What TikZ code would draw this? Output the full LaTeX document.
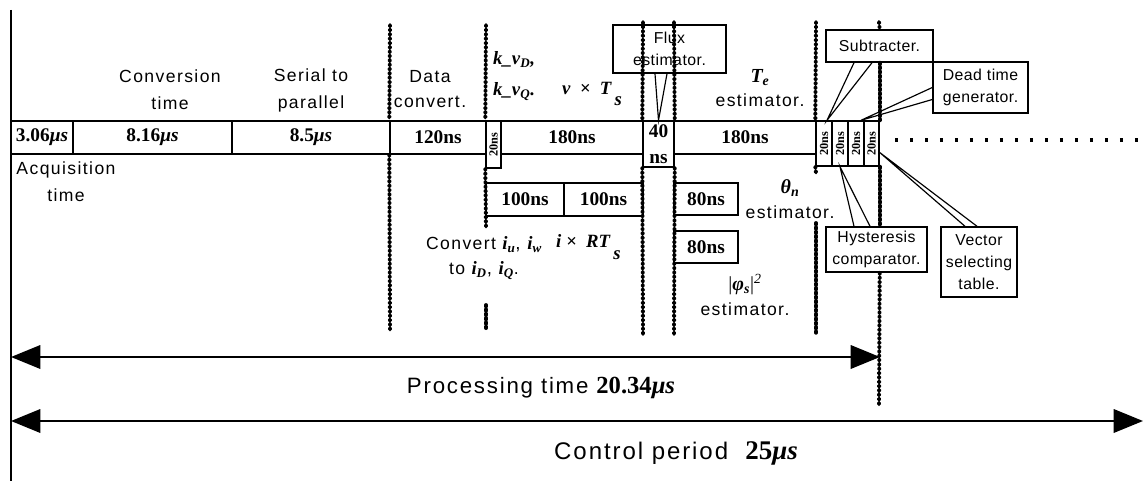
\documentclass[tikz,border=0pt]{standalone}
\usepackage{graphicx}
\usepackage{fontspec}
\setmainfont{Liberation Serif}
\newfontfamily\lblfont{Liberation Sans}[LetterSpace=8]
\newfontfamily\tagfont{Liberation Sans}[LetterSpace=3]
\usetikzlibrary{arrows.meta,calc}

\newcommand{\bi}[1]{{\rmfamily\bfseries\itshape #1}}
\newcommand{\us}{\bi{μs}}

\begin{document}
\begin{tikzpicture}[x=0.03cm, y=-0.03cm,
  sz/.style 2 args={minimum width=#1*0.03cm, minimum height=#2*0.03cm},
  lbl/.style={font=\lblfont\fontsize{15}{21}\selectfont, align=center, inner sep=0pt},
  tag/.style={draw, line width=1.2pt, inner sep=0pt, align=center,
              font=\tagfont\fontsize{13.5}{19}\selectfont},
  cell/.style={draw, line width=1.2pt, inner sep=0pt, align=center,
               font=\bfseries\fontsize{16.5}{18}\selectfont},
  tiny/.style={cell, font=\bfseries\fontsize{10.5}{12}\selectfont},
  var/.style={font=\bfseries\itshape\fontsize{16}{26}\selectfont, inner sep=0pt, align=left},
  dotline/.style={line width=3.3pt, line cap=round, dash pattern=on 1.2pt off 2.5pt},
  lead/.style={line width=1pt},
  period/.style={line width=1.8pt,
                 {Triangle[length=25pt,width=20pt]}-{Triangle[length=25pt,width=20pt]}}
]
\useasboundingbox (0,0) rectangle (1143,481);

% Time band
\node[cell, sz={62}{33}]  at (42,137.5)    (acq)  {3.06\us};
\node[cell, sz={159}{33}] at (152.5,137.5) (conv) {8.16\us};
\node[cell, sz={158}{33}] at (311,137.5)   (ser)  {8.5\us};
\node[cell, sz={96}{33}]  at (438,137.5)   (dat)  {120ns};
\node[tiny, sz={15}{47}]  at (493.5,144.5) (kv)   {\rotatebox{90}{20ns}};
\node[cell, sz={142}{33}] at (572,137.5)   (mul)  {180ns};
\node[cell, sz={31}{46}]  at (658.5,144)   (flx)  {40\\[4pt]ns};
\node[cell, sz={142}{33}] at (745,137.5)   (te)   {180ns};
\node[tiny, sz={16}{45}]  at (824,143.5)   (c1)   {\rotatebox{90}{20ns}};
\node[tiny, sz={16}{45}]  at (840,143.5)   (c2)   {\rotatebox{90}{20ns}};
\node[tiny, sz={16}{45}]  at (856,143.5)   (c3)   {\rotatebox{90}{20ns}};
\node[tiny, sz={15}{45}]  at (871.5,143.5) (c4)   {\rotatebox{90}{20ns}};

% Parallel steps
\node[cell, sz={78}{33}] at (525,199.5)   (m1) {100ns};
\node[cell, sz={79}{33}] at (603.5,199.5) (m2) {100ns};
\node[cell, sz={64}{32}] at (706,199)     (th) {80ns};
\node[cell, sz={64}{32}] at (706,247)     (ph) {80ns};

% Named blocks
\node[tag, sz={113}{48}] at (669.5,49)  (flux) {Flux\\estimator.};
\node[tag, sz={107}{32}] at (879.5,46)  (sub)  {Subtracter.};
\node[tag, sz={95}{51}]  at (980.5,87.5) (dead) {Dead time\\generator.};
\node[tag, sz={101}{45}] at (876.5,249.5) (hyst) {Hysteresis\\comparator.};
\node[tag, sz={76}{70}]  at (979,262)   (vect) {Vector\\selecting\\table.};

% Separators
\draw[dotline] (390,25) -- (dat.north west);
\draw[dotline] (dat.south west) -- (390,330);
\draw[dotline] (486,25) -- (kv.north west);
\draw[dotline] (kv.south west) -- (486,228);
\draw[dotline] (486,305) -- (486,330);
\draw[dotline] (643,22) -- (flx.north west);
\draw[dotline] (flx.south west) -- (643,335);
\draw[dotline] (674,22) -- (flx.north east);
\draw[dotline] (flx.south east) -- (674,335);
\draw[dotline] (816,22) -- (c1.north west);
\draw[dotline] (c1.south west) -- (816,173);
\draw[dotline] (816,223) -- (816,335);
\draw[dotline] (879,22) -- (sub.north -| c4.east);
\draw[dotline] (sub.south -| c4.east) -- (c4.north east);
\draw[dotline] (c4.south east) -- (hyst.north -| c4.east);
\draw[dotline] (hyst.south -| c4.east) -- (879,405);
\draw[line width=2.6pt, dash pattern=on 2.6pt off 10.2pt] (895,140) -- (1143,140);

% Leaders
\draw[lead] ($(flux.south)+(-14.5,0)$) -- (flx.north) -- ($(flux.south)+(-2.5,0)$);
\draw[lead] ($(sub.south)+(-25.5,0)$) -- ($(c1.north)+(3,0)$) -- ($(sub.south)+(-7.5,0)$);
\draw[lead] (dead.west) -- ($(c3.north)+(5,0)$) -- ($(dead.west)+(0,12)$);
\draw[lead] ($(hyst.north)+(-22.5,0)$) -- (c2.south) -- ($(hyst.north)+(-6.5,0)$);
\draw[lead] ($(vect.north)+(-14,0)$) -- ($(c4.east)+(0,9)$) -- ($(vect.north)+(-2,0)$);

% Labels
\node[lbl, font=\lblfont\fontsize{15}{23}\selectfont] (convlbl) at (170,90) {Conversion\\time};
\node[lbl, font=\lblfont\fontsize{15}{23}\selectfont] (serlbl) at (311,90) {Serial to\\parallel};
\node[lbl, font=\lblfont\fontsize{15}{23}\selectfont] (acqlbl) at (66,182) {Acquisition\\time};
\node[lbl] (datlbl) at (430,89) {Data\\convert.};
\node[var, anchor=west] (kvlbl) at (493,76) {k\_v\textsubscript{D},\\k\_v\textsubscript{Q}.};
\node[var, anchor=west] (vts) at (562,94) {v\ \ ×\ \ T\,\raisebox{-1.3ex}{s}};
\node[lbl] (telbl) at (760,88) {{\bfseries\itshape\rmfamily\fontsize{17}{20}\selectfont T\textsubscript{e}}\\estimator.};
\node[lbl] (thlbl) at (790,199) {{\bfseries\itshape\rmfamily\fontsize{17}{20}\selectfont θ\textsubscript{n}}\\estimator.};
\node[lbl] (phlbl) at (745,295) {{\rmfamily\fontsize{17}{20}\selectfont |\bi{φ}\textsubscript{\bi{s}}|\textsuperscript{\itshape 2}}\\estimator.};
\node[lbl] (cvlbl) at (484,258) {Convert {\fontsize{16}{20}\selectfont\bi{i}\textsubscript{\bi{u}}, \bi{i}\textsubscript{\bi{w}}}\\to {\fontsize{16}{20}\selectfont\bi{i}\textsubscript{\bi{D}}, \bi{i}\textsubscript{\bi{Q}}}.};
\node[var, anchor=west] (irt) at (556,247) {i\ ×\ \ RT\,\raisebox{-1.3ex}{s}};

% Time spans
\coordinate (ptop) at (11,10);
\coordinate (pbot) at (11,481);
\draw[line width=1.8pt] (ptop) -- (pbot);
\coordinate (procL) at (11,357);
\coordinate (procR) at (880,357);
\draw[period] (procL) -- (procR);
\coordinate (ctrlL) at (11,421);
\coordinate (ctrlR) at (1143,421);
\draw[period] (ctrlL) -- (ctrlR);
\node[lbl, font=\lblfont\fontsize{19}{22}\selectfont] (proclbl) at (541,388)
  {Processing time {\rmfamily\bfseries\fontsize{21}{22}\selectfont 20.34\bi{μs}}};
\node[lbl, font=\lblfont\fontsize{20.5}{24}\selectfont] (ctrllbl) at (676,453)
  {Control period\ \ {\rmfamily\bfseries\fontsize{23}{24}\selectfont 25\bi{μs}}};

\end{tikzpicture}
\end{document}
